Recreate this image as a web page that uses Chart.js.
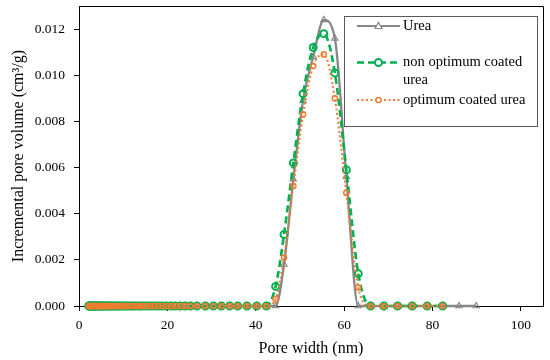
<!DOCTYPE html>
<html><head><meta charset="utf-8">
<script src="https://cdn.jsdelivr.net/npm/chart.js@4/dist/chart.umd.min.js"></script>
<style>html,body{margin:0;padding:0;background:#fff;}#wrap{width:550px;height:360px;position:relative;}</style>
</head><body><div id="wrap"><canvas id="c" width="550" height="360"></canvas></div>
<script>
// Pore width grid (nm)
const poreWidth = [2.2, 2.31, 2.43, 2.55, 2.67, 2.81, 2.95, 3.1, 3.25, 3.41, 3.58, 3.76, 3.95, 4.15, 4.36, 4.57, 4.8, 5.04, 5.29, 5.56,
  5.84, 6.13, 6.43, 6.76, 7.09, 7.45, 7.82, 8.21, 8.62, 9.05, 9.51, 9.98, 10.5, 11.0, 11.6, 12.1, 12.7, 13.4, 14.0, 14.7,
  15.5, 16.3, 17.1, 17.9, 18.8, 19.8, 20.8, 21.8, 22.9, 24.0, 25.2, 26.7, 28.6, 30.4, 32.2, 34.1, 35.9, 38.0, 40.2, 42.4,
  44.5, 46.4, 48.5, 50.7, 53.0, 55.4, 57.9, 60.5, 63.2, 66.0, 69.0, 72.1, 75.4, 78.8, 82.3, 86.0, 89.9];
// Incremental pore volume (cm3/g)
const urea = [0, 0, 0, 0, 0, 0, 0, 0, 0, 0, 0, 0, 0, 0, 0, 0, 0, 0, 0, 0,
  0, 0, 0, 0, 0, 0, 0, 0, 0, 0, 0, 0, 0, 0, 0, 0, 0, 0, 0, 0,
  0, 0, 0, 0, 0, 0, 0, 0, 0, 0, 0, 0, 0, 0, 0, 0, 0, 0, 0, 0,
  0, 0.0018, 0.0055, 0.0089, 0.0108, 0.0124, 0.0116, 0.0056, 0, 0, 0, 0, 0, 0, 0, 0, 0];
const nonOptimum = [0, 0, 0, 0, 0, 0, 0, 0, 0, 0, 0, 0, 0, 0, 0, 0, 0, 0, 0, 0,
  0, 0, 0, 0, 0, 0, 0, 0, 0, 0, 0, 0, 0, 0, 0, 0, 0, 0, 0, 0,
  0, 0, 0, 0, 0, 0, 0, 0, 0, 0, 0, 0, 0, 0, 0, 0, 0, 0, 0, 0,
  0.00085, 0.0031, 0.0062, 0.0092, 0.0112, 0.0118, 0.0101, 0.0059, 0.0014, 0, 0, 0, 0, 0, 0, null, null];
const optimum = [0, 0, 0, 0, 0, 0, 0, 0, 0, 0, 0, 0, 0, 0, 0, 0, 0, 0, 0, 0,
  0, 0, 0, 0, 0, 0, 0, 0, 0, 0, 0, 0, 0, 0, 0, 0, 0, 0, 0, 0,
  0, 0, 0, 0, 0, 0, 0, 0, 0, 0, 0, 0, 0, 0, 0, 0, 0, 0, 0, 0,
  0.0003, 0.0021, 0.0052, 0.0083, 0.0104, 0.0109, 0.0090, 0.0049, 0.0008, 0, 0, 0, 0, 0, 0, null, null];
const seriesNames = ['Urea', 'non optimum coated urea', 'optimum coated urea'];
const xTicks = [0, 20, 40, 60, 80, 100];
const yTicks = [0, 0.002, 0.004, 0.006, 0.008, 0.010, 0.012];

const FONT = '"Liberation Serif", "Times New Roman", serif';
const GRAY = '#878787', GREEN = '#00B050', ORANGE = '#ED7D31';

function pts(ys) { return poreWidth.map((x, i) => ({x: x, y: ys[i]})); }

const framePlugin = {
  id: 'frame',
  beforeDatasetsDraw(chart) {
    const a = chart.chartArea, ctx = chart.ctx;
    ctx.save();
    ctx.strokeStyle = '#000'; ctx.lineWidth = 1;
    ctx.beginPath();
    ctx.moveTo(a.left, a.top + 0.5); ctx.lineTo(a.right + 0.5, a.top + 0.5); ctx.lineTo(a.right + 0.5, a.bottom);
    ctx.stroke();
    ctx.restore();
  }
};

const legendPlugin = {
  id: 'boxLegend',
  afterDraw(chart) {
    const ctx = chart.ctx;
    ctx.save();
    ctx.fillStyle = '#fff'; ctx.strokeStyle = '#5a5a5a'; ctx.lineWidth = 1;
    ctx.fillRect(344.5, 16.5, 193, 110);
    ctx.strokeRect(344.5, 16.5, 193, 110);
    const x0 = 357, x1 = 400, xm = 378.5;
    // Urea
    ctx.setLineDash([]); ctx.strokeStyle = GRAY; ctx.lineWidth = 2.2;
    ctx.beginPath(); ctx.moveTo(x0, 26); ctx.lineTo(x1, 26); ctx.stroke();
    ctx.lineWidth = 1.2; ctx.fillStyle = '#fff';
    ctx.beginPath(); ctx.moveTo(xm, 22.5); ctx.lineTo(xm + 3.5, 28.5); ctx.lineTo(xm - 3.5, 28.5); ctx.closePath(); ctx.fill(); ctx.stroke();
    // non optimum
    ctx.strokeStyle = GREEN; ctx.lineWidth = 2.5; ctx.setLineDash([7, 4]);
    ctx.beginPath(); ctx.moveTo(x0, 62.5); ctx.lineTo(x1, 62.5); ctx.stroke();
    ctx.setLineDash([]); ctx.lineWidth = 2;
    ctx.beginPath(); ctx.arc(xm, 62.5, 3.5, 0, Math.PI * 2); ctx.fill(); ctx.stroke();
    // optimum
    ctx.strokeStyle = ORANGE; ctx.lineWidth = 2; ctx.setLineDash([2, 2.5]);
    ctx.beginPath(); ctx.moveTo(x0, 100); ctx.lineTo(x1, 100); ctx.stroke();
    ctx.setLineDash([]); ctx.lineWidth = 1.5;
    ctx.beginPath(); ctx.arc(xm, 100, 2.6, 0, Math.PI * 2); ctx.fill(); ctx.stroke();
    // texts
    ctx.fillStyle = '#000'; ctx.font = '14.5px ' + FONT; ctx.textBaseline = 'middle'; ctx.textAlign = 'left';
    ctx.fillText(seriesNames[0], 403, 26);
    ctx.fillText('non optimum coated', 403, 62.5);
    ctx.fillText('urea', 403, 80.5);
    ctx.fillText(seriesNames[2], 403, 100);
    ctx.restore();
  }
};

new Chart(document.getElementById('c'), {
  type: 'line',
  data: {
    datasets: [
      {label: seriesNames[0], data: pts(urea), borderColor: GRAY, borderWidth: 2.3, pointStyle: 'triangle',
        pointRadius: 3.6, pointBorderWidth: 1.1, pointBorderColor: GRAY, pointBackgroundColor: 'rgba(255,255,255,0)',
        cubicInterpolationMode: 'monotone', order: 2, clip: false},
      {label: seriesNames[1], data: pts(nonOptimum), borderColor: GREEN, borderWidth: 2.6, borderDash: [7, 4],
        pointStyle: 'circle', pointRadius: 3.5, pointBorderWidth: 2, pointBorderColor: GREEN,
        pointBackgroundColor: 'rgba(255,255,255,0)', cubicInterpolationMode: 'monotone', order: 1, clip: false},
      {label: seriesNames[2], data: pts(optimum), borderColor: ORANGE, borderWidth: 2.1, borderDash: [2, 2.5],
        pointStyle: 'circle', pointRadius: 2.6, pointBorderWidth: 1.5, pointBorderColor: ORANGE,
        pointBackgroundColor: 'rgba(255,255,255,0)', cubicInterpolationMode: 'monotone', order: 0, clip: false}
    ]
  },
  options: {
    responsive: false, animation: false, devicePixelRatio: 1,
    layout: {padding: {left: 0, right: 7, top: 5, bottom: 0}},
    plugins: {legend: {display: false}, tooltip: {enabled: false}},
    scales: {
      x: {
        type: 'linear', min: 0, max: 105,
        afterBuildTicks: s => { s.ticks = xTicks.map(v => ({value: v})); },
        afterFit: s => { s.height = 54; s.paddingLeft = 0; s.paddingRight = 0; },
        ticks: {font: {family: FONT, size: 13.5}, color: '#000', padding: 6, maxRotation: 0},
        grid: {display: true, drawOnChartArea: false, drawTicks: true, tickLength: 5, tickColor: '#000'},
        border: {display: true, color: '#000', width: 1},
        title: {display: true, text: 'Pore width (nm)', font: {family: FONT, size: 16}, color: '#000', padding: {top: 0, bottom: 2}}
      },
      y: {
        type: 'linear', min: 0, max: 0.013,
        afterBuildTicks: s => { s.ticks = yTicks.map(v => ({value: v})); },
        afterFit: s => { s.width = 79; s.paddingTop = 0; s.paddingBottom = 0; },
        ticks: {font: {family: FONT, size: 13.5}, color: '#000', padding: 9, callback: v => v.toFixed(3)},
        grid: {display: true, drawOnChartArea: false, drawTicks: true, tickLength: 5, tickColor: '#000'},
        border: {display: true, color: '#000', width: 1},
        title: {display: true, text: 'Incremental pore volume (cm³/g)', font: {family: FONT, size: 16}, color: '#000', padding: {top: 9, bottom: 0}}
      }
    }
  },
  plugins: [framePlugin, legendPlugin]
});
</script>
</body></html>
